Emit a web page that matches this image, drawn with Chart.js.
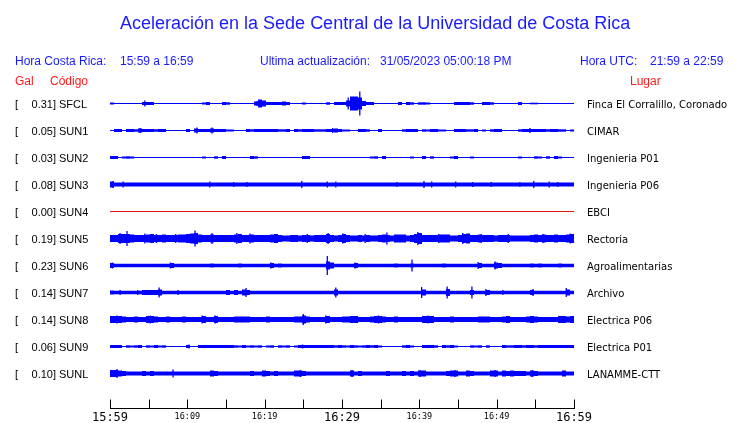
<!DOCTYPE html>
<html><head><meta charset="utf-8">
<script src="https://cdn.jsdelivr.net/npm/chart.js@4.4.0/dist/chart.umd.min.js"></script>
<style>
html,body{margin:0;padding:0;background:#fff;}
#wrap{position:relative;width:740px;height:423px;overflow:hidden;background:#fff;}
#c{position:absolute;left:0;top:0;}
.t{position:absolute;white-space:pre;font-family:"Liberation Sans",Arial,sans-serif;font-size:12px;line-height:12px;color:rgb(26,26,255);}
.r{color:rgb(255,26,26);}
#title{font-size:18px;line-height:18px;top:14px;left:120px;}
</style></head><body>
<div id="wrap">
<canvas id="c" width="740" height="423"></canvas>
<div class="t" id="title">Aceleración en la Sede Central de la Universidad de Costa Rica</div>
<div class="t" style="top:55px;left:15px">Hora Costa Rica:</div>
<div class="t" style="top:55px;left:120px">15:59 a 16:59</div>
<div class="t" style="top:55px;left:260px">Ultima actualización:</div>
<div class="t" style="top:55px;left:380px">31/05/2023 05:00:18 PM</div>
<div class="t" style="top:55px;left:580px">Hora UTC:</div>
<div class="t" style="top:55px;left:650px">21:59 a 22:59</div>
<div class="t r" style="top:75px;left:15px">Gal</div>
<div class="t r" style="top:75px;left:50px">Código</div>
<div class="t r" style="top:75px;left:630px">Lugar</div>
</div>
<script>
// ---------- data ----------
const codes  = ['SFCL','SUN1','SUN2','SUN3','SUN4','SUN5','SUN6','SUN7','SUN8','SUN9','SUNL'];
const galValues = [0.31,0.05,0.03,0.08,0.00,0.19,0.23,0.14,0.14,0.06,0.10];
const places = ['Finca El Corralillo, Coronado','CIMAR','Ingenieria P01','Ingenieria P06','EBCI','Rectoria','Agroalimentarias','Archivo','Electrica P06','Electrica P01','LANAMME-CTT'];
const timeLabels = ['15:59','16:09','16:19','16:29','16:39','16:49','16:59'];
const spanMinutes = 60;

// envelope half-amplitudes (px-scale units), one value per ~31 s window
const sfclEnv = [1,0,0,0,0,0,0,0,1.5,1.5, 1.5,0,0,0,0,0,0,0,0,0, 0,0,0,1,1.5,0,0,0,1.5,1.2, 0,0,0,0,0,0,2,4,3,1.5,
 1.5,1.5,1.5,2,1.5,0,0,0,1,0, 0,0,0,0,1.2,0,1.5,1.5,1.5,3, 7,7,6,2.5,1.5,1.5,0,0,0,0, 0,0,1.5,0,1.5,1.2,0,1.2,1.2,1,
 0,0,0,0,0,0,1.5,1.5,1.5,1.5, 1.2,0,0,1.5,1.5,1.2,0,0,0,0, 0,0,1.5,0,0,0.8,0.8,0,0,0, 0,0,0,0,0,0];
const sun1Env = [0,1.5,1.5,0,1.5,1.5,1.2,2,1.5,1.5, 1.5,1.2,1.5,1.5,0,0,0,0,0,1.5, 0,2,1.5,1.5,1.5,2,1.5,1.5,1.5,1, 1,0,0,0,1.5,1.2,1.5,1.5,1.5,1.5,
 1.5,1.5,1.2,1.2,1.5,0,1.5,1.2,1.5,1.5, 1.5,1.2,1.2,1.2,1.5,1.5,2,1.5,1,1, 0,0,1.5,1.5,1.2,0,0,1.5,0,0, 0,0,0,1.2,1.5,1.5,1.5,0,1.2,1,
 1.5,1.5,1,1,0,0,1.5,1.5,1.5,1.2, 1.2,1.5,0,1,0,1.2,1.5,1.5,0,0, 0,0,1.2,1.5,1.5,1.5,1.5,1.5,1.5,1.2, 1.5,1.5,1.2,1.2,0,1];
const sun2Env = [1.5,1.5,0,1,1.2,1,0,0,0,0, 0,0,0,0,0,0,0,0,0,0, 0,0,0,1,0,0,1.2,0,1.5,0, 0,0,0,0,0,1.5,1.2,0,0,0,
 0,0,0,0,0,0,0,0,1.5,1.5, 0,0,0,0,0,0,0,0,0,0, 0,0,0,0,0,1,1.2,0,1.5,0, 0,0,0,0,0,1,0,0,1.5,0,
 1.2,0,0,0,0,1,1.5,0,0,0, 1,0,0,0,0,0,0,0,0,0, 0,0,1,0,0,0,1.2,1,0,1.2, 0,1.5,1,0,0,0];
const sun3Env = [3,2,2,2,2,2,2,2,2,2, 2,2,2,2,2,2,2,2,2,2, 2,2,2,2,2,2,2,2,2,2, 2,2,2,2,2,2,2,2,2,2,
 2,2,2,2,2,2,2,2,2,2, 2,2,2,2,2,2,2,2,2,2, 2,2,2,2,2,2,2,2,2,2, 2,2,2,2,2,2,2,2,2,2,
 2,2,2,2,2,2,2,2,2,2, 2,2,2,2,2,2,2,2,2,2, 2,2,2,2,2,2,2,2,2,2, 2,2,2,2,2,2];
const sun4Env = [];
const sun5Env = [3.5,3.5,4.5,4.5,4.5,4,3.5,3.5,3.5,4, 4.5,3.5,3.5,4,3.5,3.5,3.5,4,4,4.5, 5,5.5,4,3.5,3.5,4,3.5,3.5,3.5,3.5, 3.5,4,4.5,3.5,3.5,4,3.5,3.5,3.5,3.5,
 4,4.5,3.5,3,3,3.5,3.5,3,3.5,3.5, 3,3.5,3.5,3.5,4.5,3.5,3,3.5,4.5,3.5, 3,3,3.5,3,3.5,3,3,3.5,4,3.5, 3,4,4,4,3,3.5,4.5,5.5,3.5,3.5,
 3.5,3.5,4,4,4,3,3,3.5,4.5,5, 3.5,3.5,4,3.5,3.5,3.5,3,3.5,3.5,3.5, 3,3,3,3,3,3.5,4,3.5,4,3.5, 3.5,4,3.5,3.5,4,4.5];
const sun6Env = [2.5,1.75,1.75,1.75,1.75,1.75,1.75,1.75,1.75,1.75, 1.75,1.75,1.75,1.75,1.75,2.5,1.75,1.75,1.75,1.75, 1.75,1.75,1.75,1.75,1.75,2,1.75,1.75,1.75,1.75, 1.75,1.75,2,1.75,1.75,1.75,1.75,1.75,1.75,1.75,
 2.5,1.75,2,1.75,1.75,1.75,1.75,1.75,1.75,1.75, 1.75,1.75,1.75,1.75,4,3,1.75,1.75,1.75,1.75, 1.75,2.5,1.75,1.75,1.75,1.75,1.75,1.75,1.75,1.75, 1.75,2,1.75,1.75,1.75,2,1.75,1.75,1.75,1.75,
 1.75,1.75,1.75,2,1.75,1.75,1.75,1.75,1.75,1.75, 1.75,1.75,2.5,1.75,1.75,1.75,3,2.5,1.75,1.75, 1.75,1.75,1.75,1.75,1.75,2,1.75,2,1.75,1.75, 1.75,1.75,2,1.75,1.75,1.75];
const sun7Env = [2,1.75,1.75,1.75,1.75,1.75,1.75,1.75,2.5,2.5, 2.5,2.5,3,1.75,1.75,1.75,1.75,1.75,1.75,1.75, 1.75,1.75,1.75,1.75,1.75,1.75,1.75,1.75,1.75,2.5, 1.75,2.5,1.75,3,2.5,1.75,1.75,1.75,1.75,1.75,
 1.75,1.75,1.75,1.75,1.75,1.75,1.75,1.75,1.75,1.75, 1.75,1.75,1.75,1.75,1.75,1.75,3,1.75,1.75,1.75, 1.75,1.75,1.75,1.75,1.75,1.75,1.75,1.75,1.75,1.75, 1.75,1.75,1.75,1.75,1.75,1.75,1.75,1.75,3,1.75,
 1.75,1.75,1.75,1.75,3.5,1.75,1.75,1.75,1.75,1.75, 2.5,1.75,1.75,1.75,2.5,1.75,1.75,1.75,1.75,1.75, 1.75,1.75,1.75,1.75,1.75,2.5,1.75,1.75,1.75,1.75, 1.75,1.75,1.75,1.75,3,1.75];
const sun8Env = [3.5,3.5,3.5,3,2.5,2.5,3,2.5,2.5,3.5, 3.5,3,2.5,2.5,3,2.5,2.5,2.5,3,2.5, 2.5,2.5,2.5,3.5,2.5,2.5,3.5,2.5,2.5,2.5, 2.5,3,3,3,3,2.5,2.5,2.5,2.5,3,
 2.5,2.5,2.5,2.5,2.5,2.5,3,3,4,3, 2.5,2.5,2.5,2.5,3.5,2.5,2.5,2.5,3,3, 3.5,3.5,2.5,2.5,2.5,3,3.5,3.5,3,2.5, 2.5,3,2.5,2.5,2.5,2.5,2.5,2.5,3.5,3.5,
 3.5,2.5,2.5,2.5,2.5,3,2.5,2.5,2.5,2.5, 2.5,2.5,3,3,3,2.5,2.5,2.5,3,3.5, 2.5,2.5,2.5,2.5,3,3.5,3,2.5,2.5,2.5, 2.5,2.5,3.5,3.5,3,3.5];
const sun9Env = [1.5,1.5,1.5,0,1.2,1,1.2,1.5,0,1.2, 1,1.5,1,1.2,0,0,0,0,0,1.5, 0,0,1.5,1.5,1.5,1.5,1.5,1.5,1.5,1.5, 1.5,1.2,1,1.5,1,1.2,1,1.2,0,1,
 1.2,0,1.2,1,1.2,0,1,1.5,1.5,1.5, 1.5,1.5,1.5,1.5,1.5,1.5,1.2,1.5,1.2,1, 1.5,1.2,1,1.2,1.5,1.2,1.5,1,0,0, 0,0,0,1.2,1.5,1,0,0,1.5,1.5,
 1.5,1.2,0,1.5,1.2,1.5,1,0,0,0, 1.2,1,1.2,0,1.2,0,0,0,1.5,1.2, 1.2,1.5,1.5,1.2,1.5,1.5,1.2,1.5,1.5,1.5, 1.5,1.5,1.5,1.5,1.5,1.5];
const sunlEnv = [3.5,3.5,3,2.5,2,2,2,2,2.5,2, 2.5,2,2,2,2,2,2,2,2,2, 2,2,2,2,2,3,2.5,2,2,2, 2,2,2,2,2,2.5,2,2,3,2.5,
 2,2.5,2,2,2,2,3,3,2.5,2, 2,2,2,2,2,2,2,2,2,2, 3,2,2.5,2,2,2,2,2,2,2.5, 2,2,2,2.5,2,2.5,2,3,3,2,
 2,2,2,2,2.5,3,3,2,2,3, 2.5,2,2,2,2,3,3,2,3,2.5, 3,2.5,2.5,2.5,2,3,2.5,2,2,2, 2,2,2,3,2,2];

// narrow spikes: [minute, half-amplitude]
const sfclSpikes = [[4.5,3],[19.0,2.5],[30.8,6],[32.3,12]];
const sun1Spikes = [[3.9,2.5],[11.25,3],[13.2,3],[28.8,2.5],[54.3,2.5]];
const sun2Spikes = [];
const sun3Spikes = [[0.4,3.5],[1.7,3],[12.9,3],[16.0,2.5],[17.7,2.5],[24.8,3.5],[28.1,3],[29.2,3],[37.1,2.5],[40.6,3.5],[41.6,3],[44.7,3],[46.9,2.5],[49.3,2.5],[53.0,2.5],[54.8,3.5],[56.8,3],[57.9,2.5]];
const sun4Spikes = [];
const sun5Spikes = [[1.3,5.5],[2.2,7.5],[4.5,5],[6.0,4.5],[8.5,4.5],[11.0,8],[13.2,5.5],[16.4,5.5],[18.1,5],[21.5,4.5],[25.5,4.5],[28.2,5.5],[30.1,5],[33.0,4.5],[35.8,6],[39.8,6.5],[42.5,4.5],[45.6,5.5],[48.0,4.5],[51.5,4.5],[56.0,4.5],[59.5,5]];
const sun6Spikes = [[0.3,3],[7.8,3],[20.8,3],[28.1,9.5],[31.7,3],[39.05,6],[47.6,3.5],[49.8,4]];
const sun7Spikes = [[1.3,2.5],[3.6,2.5],[6.35,5],[8.8,2.5],[17.6,4.5],[29.2,5],[40.3,5.5],[43.6,6],[46.8,6],[48.6,3.5],[50.8,2.5],[54.7,3.5],[59.0,4.5]];
const sun8Spikes = [[0.9,4],[5.2,4],[11.9,4],[13.6,4],[25.0,5.5],[27.9,4],[34.7,4],[41.1,4]];
const sun9Spikes = [[10.2,2],[24.9,2]];
const sunlSpikes = [[0.9,4.5],[8.15,4],[24.6,3.5],[31.3,3.5],[40.1,3.5],[44.6,3.5],[49.8,3.5],[54.6,3.5]];

const envs = [sfclEnv,sun1Env,sun2Env,sun3Env,sun4Env,sun5Env,sun6Env,sun7Env,sun8Env,sun9Env,sunlEnv];
const spikes = [sfclSpikes,sun1Spikes,sun2Spikes,sun3Spikes,sun4Spikes,sun5Spikes,sun6Spikes,sun7Spikes,sun8Spikes,sun9Spikes,sunlSpikes];

// ---------- layout / style ----------
const PLOT_L = 110, PLOT_R = 574, PLOT_T = 90, PLOT_B = 409;
const ROW0 = 13.5, ROW_GAP = 27;
const rowBase = k => ROW0 + ROW_GAP * k;
const TRACE = '#0000ff', DEAD = 'rgb(220,20,20)';
const deadRow = k => galValues[k] === 0;

const datasets = [];
codes.forEach((code, k) => {
  const b = rowBase(k);
  const col = deadRow(k) ? DEAD : TRACE;
  datasets.push({ type:'line', data:[{x:0,y:b},{x:spanMinutes,y:b}], borderColor:col, borderWidth:1, pointRadius:0, tension:0 });
  const env = envs[k];
  if (env.length) {
    const w = spanMinutes / env.length;
    datasets.push({ type:'bar', grouped:false, barThickness:(PLOT_R-PLOT_L)/env.length, backgroundColor:col,
      data: env.map((a,i)=> a>0 ? {x:(i+0.5)*w, y:[b-a,b+a]} : null).filter(Boolean) });
  }
  if (spikes[k].length) {
    datasets.push({ type:'bar', grouped:false, barThickness:1.3, backgroundColor:col,
      data: spikes[k].map(([t,a]) => ({x:t, y:[b-a,b+a]})) });
  }
});

const decor = {
  id:'decor',
  afterDraw(chart){
    const {ctx, scales:{x,y}} = chart;
    ctx.save();
    codes.forEach((code,k)=>{
      const py = y.getPixelForValue(rowBase(k));
      ctx.fillStyle = '#000';
      ctx.font = '11px "Liberation Sans"';
      ctx.textBaseline = 'alphabetic';
      ctx.textAlign = 'left';
      ctx.fillText('[', 15, py + 4.5);
      ctx.textAlign = 'right';
      ctx.fillText(galValues[k].toFixed(2) + ']', 56, py + 4.5);
      ctx.textAlign = 'left';
      ctx.fillText(code, 59, py + 4.5);
      ctx.font = '10px "DejaVu Sans"';
      ctx.fillText(places[k], 587, py + 4);
    });
    // time axis
    const ay = chart.chartArea.bottom - 0.5;
    ctx.strokeStyle = '#000'; ctx.lineWidth = 1;
    ctx.beginPath();
    ctx.moveTo(Math.round(x.getPixelForValue(0)), ay);
    ctx.lineTo(Math.round(x.getPixelForValue(spanMinutes)) + 1, ay);
    for (let m = 0; m <= spanMinutes; m += 5) {
      const px = Math.round(x.getPixelForValue(m)) + 0.5;
      ctx.moveTo(px, ay - 9); ctx.lineTo(px, ay);
    }
    ctx.stroke();
    ctx.fillStyle = '#000';
    ctx.textAlign = 'center';
    timeLabels.forEach((lab,j)=>{
      const m = j * 10;
      const px = x.getPixelForValue(m);
      const big = (j % 3 === 0);
      ctx.font = big ? '12px "DejaVu Sans Mono"' : '8.5px "DejaVu Sans Mono"';
      ctx.fillText(lab, px, big ? 421 : 418.5);
    });
    ctx.restore();
  }
};

new Chart(document.getElementById('c'), {
  type:'bar',
  data:{ datasets },
  options:{
    responsive:false, animation:false, devicePixelRatio:1,
    layout:{ padding:{ left:PLOT_L, right:740-PLOT_R, top:PLOT_T, bottom:423-PLOT_B } },
    plugins:{ legend:{display:false}, tooltip:{enabled:false}, title:{display:false} },
    datasets:{ bar:{ grouped:false, borderWidth:0, inflateAmount:0 } },
    scales:{
      x:{ type:'linear', min:0, max:spanMinutes, offset:false, display:false },
      y:{ type:'linear', min:0, max:PLOT_B-PLOT_T, reverse:true, display:false }
    }
  },
  plugins:[decor]
});
</script>
</body></html>
